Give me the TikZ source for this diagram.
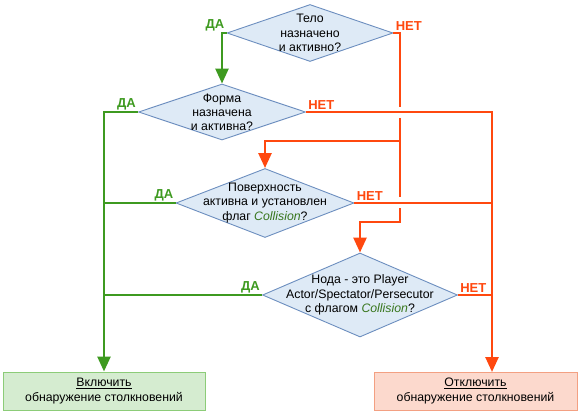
\documentclass[tikz,border=0pt]{standalone}
\usepackage{fontspec}
\setmainfont{Liberation Sans}
\usepackage{tikz}
\usetikzlibrary{shapes.geometric, arrows.meta, positioning}
\definecolor{yesgreen}{RGB}{62,154,32}
\definecolor{nored}{RGB}{255,72,15}
\definecolor{decfill}{RGB}{222,234,246}
\definecolor{decborder}{RGB}{108,142,191}
\definecolor{onfill}{RGB}{213,236,208}
\definecolor{onborder}{RGB}{140,204,120}
\definecolor{offfill}{RGB}{252,217,205}
\definecolor{offborder}{RGB}{243,160,130}
\definecolor{colgreen}{RGB}{56,118,29}
\tikzstyle{decision} = [diamond, draw=decborder, fill=decfill, line width=0.9pt, inner sep=0pt]
\tikzstyle{dtext} = [align=center, inner sep=0pt, font=\fontsize{12.3}{14.2}\selectfont]
\tikzstyle{result} = [rectangle, line width=1pt, minimum width=202pt, minimum height=38pt, align=center, font=\fontsize{12.3}{14.5}\selectfont]
\tikzstyle{yesline} = [line width=2.6pt, draw=yesgreen]
\tikzstyle{noline} = [line width=2.6pt, draw=nored]
\tikzstyle{arrow} = [-{Triangle[width=13pt,length=15pt]}]
\tikzstyle{lblyes} = [font=\bfseries\fontsize{13}{14}\selectfont, text=yesgreen, inner sep=1pt]
\tikzstyle{lblno} = [font=\bfseries\fontsize{13}{14}\selectfont, text=nored, inner sep=1pt]

\begin{document}
\begin{tikzpicture}[x=1pt, y=-1pt]
\useasboundingbox (0,0) rectangle (580,414);

% Decisions
\node (body) [decision, minimum width=166pt, minimum height=57pt,
  label={[dtext]center:{Тело\\назначено\\и активно?}}] at (310,33) {};
\node (shape) [decision, minimum width=167pt, minimum height=56pt,
  label={[dtext]center:{Форма\\назначена\\и активна?}}] at (222,112) {};
\node (surface) [decision, minimum width=178pt, minimum height=69pt,
  label={[dtext]center:{Поверхность\\активна и установлен\\флаг \textcolor{colgreen}{\itshape Collision}?}}] at (265,203) {};
\node (player) [decision, minimum width=195pt, minimum height=84pt,
  label={[dtext]center:{Нода - это Player\\Actor/Spectator/Persecutor\\с флагом \textcolor{colgreen}{\itshape Collision}?}}] at (360,295) {};

% Results
\node (enable) [result, draw=onborder, fill=onfill] at (104,391) {\underline{Включить}\\обнаружение столкновений};
\node (disable) [result, draw=offborder, fill=offfill, minimum width=203pt] at (475.5,391) {\underline{Отключить}\\обнаружение столкновений};

% Joints of the red trunk
\coordinate (gapA) at (400,107);
\coordinate (gapB) at (400,118);
\coordinate (split) at (400,141);
\coordinate (gapC) at (400,197);
\coordinate (gapD) at (400,208);
\coordinate (turn) at (400,222);
\coordinate (offin) at (492,372);

% Yes branches
\draw [yesline, arrow] (body.west) node[above left, lblyes] {ДА} -| (shape.north);
\draw [yesline, arrow] (shape.west) node[above left, lblyes] {ДА} -| (enable.north);
\draw [yesline] (surface.west) node[above left, lblyes] {ДА} -- (surface.west -| enable.north);
\draw [yesline] (player.west) node[above left, lblyes] {ДА} -- (player.west -| enable.north);

% No branches
\draw [noline] (body.east) node[above right, lblno] {НЕТ} -| (gapA);
\draw [noline] (gapB) -- (gapC);
\draw [noline, arrow] (split) -| (surface.north);
\draw [noline, arrow] (gapD) -- (turn) -| (player.north);
\draw [noline, arrow] (shape.east) node[above right, lblno] {НЕТ} -| (offin);
\draw [noline] (surface.east) node[above right, lblno] {НЕТ} -- (surface.east -| offin);
\draw [noline] (player.east) node[above right, lblno] {НЕТ} -- (player.east -| offin);

\end{tikzpicture}
\end{document}
